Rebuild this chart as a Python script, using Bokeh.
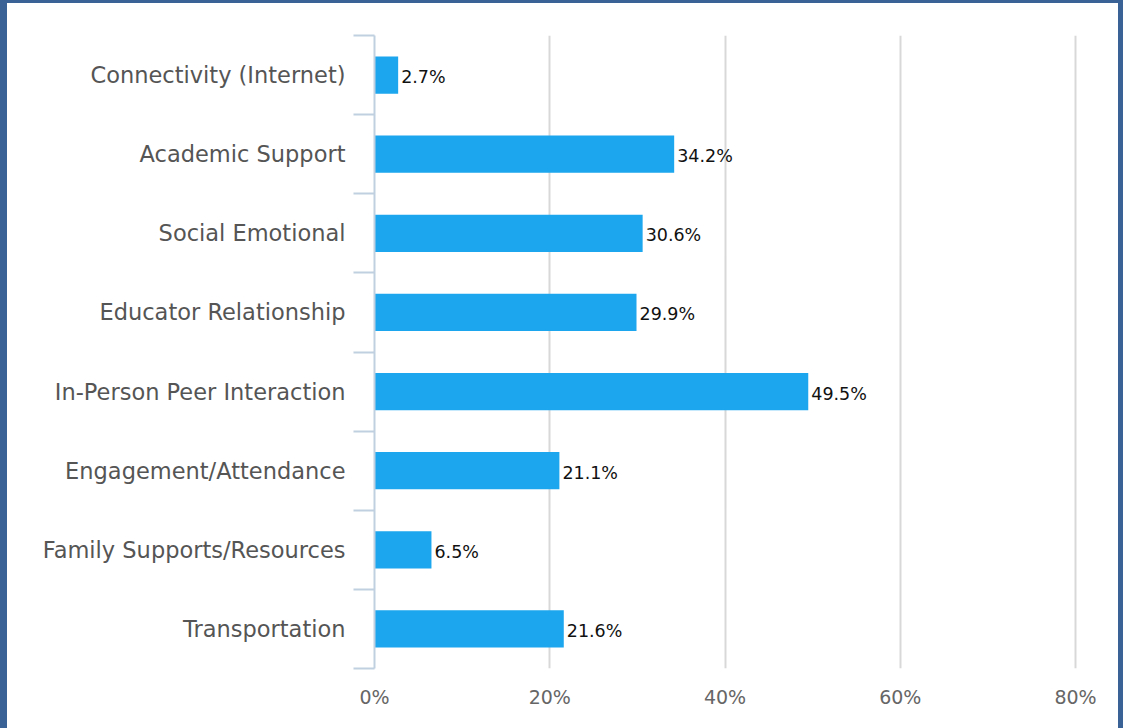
from bokeh.plotting import figure
from bokeh.models import ColumnDataSource, FixedTicker, Range1d, PrintfTickFormatter
from bokeh.core.properties import value
from bokeh.embed import file_html
from bokeh.resources import INLINE

categories = ["Connectivity (Internet)", "Academic Support", "Social Emotional",
              "Educator Relationship", "In-Person Peer Interaction",
              "Engagement/Attendance", "Family Supports/Resources", "Transportation"]
values = [2.7, 34.2, 30.6, 29.9, 49.5, 21.1, 6.5, 21.6]
x_ticks = [0, 20, 40, 60, 80]

idx = list(range(len(categories)))
src = ColumnDataSource(dict(y=idx, v=values, lbl=[f"{v}%" for v in values]))

FONT = "DejaVu Sans"

p = figure(width=1123, height=728, output_backend="svg", toolbar_location=None,
           x_range=Range1d(0, 80.34), y_range=Range1d(len(categories) - 0.5, -0.5),
           min_border_left=374, min_border_right=45, min_border_top=35, min_border_bottom=60)
p.styles = {"background-color": "white",
            "box-shadow": "inset 7px 3px 0 0 #3b6296, inset -5px 0 0 0 #3b6296"}
p.outline_line_color = None
p.background_fill_color = "white"
p.border_fill_color = None
p.border_fill_alpha = 0

p.hbar(y="y", left=0, right="v", height=0.47, source=src, color="#1ca6ee", line_color=None)
p.text(x="v", y="y", text="lbl", source=src, x_offset=3, y_offset=2,
       text_baseline="middle", text_align="left", text_font=value(FONT),
       text_font_size="17.5px", text_color="#111111")

# x axis
p.xaxis.ticker = FixedTicker(ticks=x_ticks)
p.xaxis.formatter = PrintfTickFormatter(format="%d%%")
p.xaxis.axis_line_color = None
p.xaxis.major_tick_line_color = None
p.xaxis.minor_tick_line_color = None
p.xaxis.major_label_text_font = FONT
p.xaxis.major_label_text_font_size = "19px"
p.xaxis.major_label_text_color = "#666666"
p.xaxis.major_label_standoff = 11

p.xgrid.ticker = FixedTicker(ticks=x_ticks[1:])
p.xgrid.grid_line_color = "#d8d8d8"
p.xgrid.grid_line_width = 2
p.ygrid.grid_line_color = None

# y axis: labels at centers, ticks at boundaries
p.yaxis.ticker = FixedTicker(ticks=idx, minor_ticks=[i - 0.5 for i in range(len(categories) + 1)])
p.yaxis.major_label_overrides = {i: c for i, c in zip(idx, categories)}
p.yaxis.major_tick_line_color = None
p.yaxis.major_tick_out = 0
p.yaxis.major_tick_in = 0
p.yaxis.minor_tick_line_color = "#c0d0e0"
p.yaxis.minor_tick_line_width = 2
p.yaxis.minor_tick_out = 21
p.yaxis.minor_tick_in = 0
p.yaxis.axis_line_color = "#c0d0e0"
p.yaxis.axis_line_width = 2
p.yaxis.major_label_text_font = FONT
p.yaxis.major_label_text_font_size = "22.5px"
p.yaxis.major_label_text_color = "#555555"
p.yaxis.major_label_standoff = 8

open("out.html", "w").write(file_html(p, INLINE))
